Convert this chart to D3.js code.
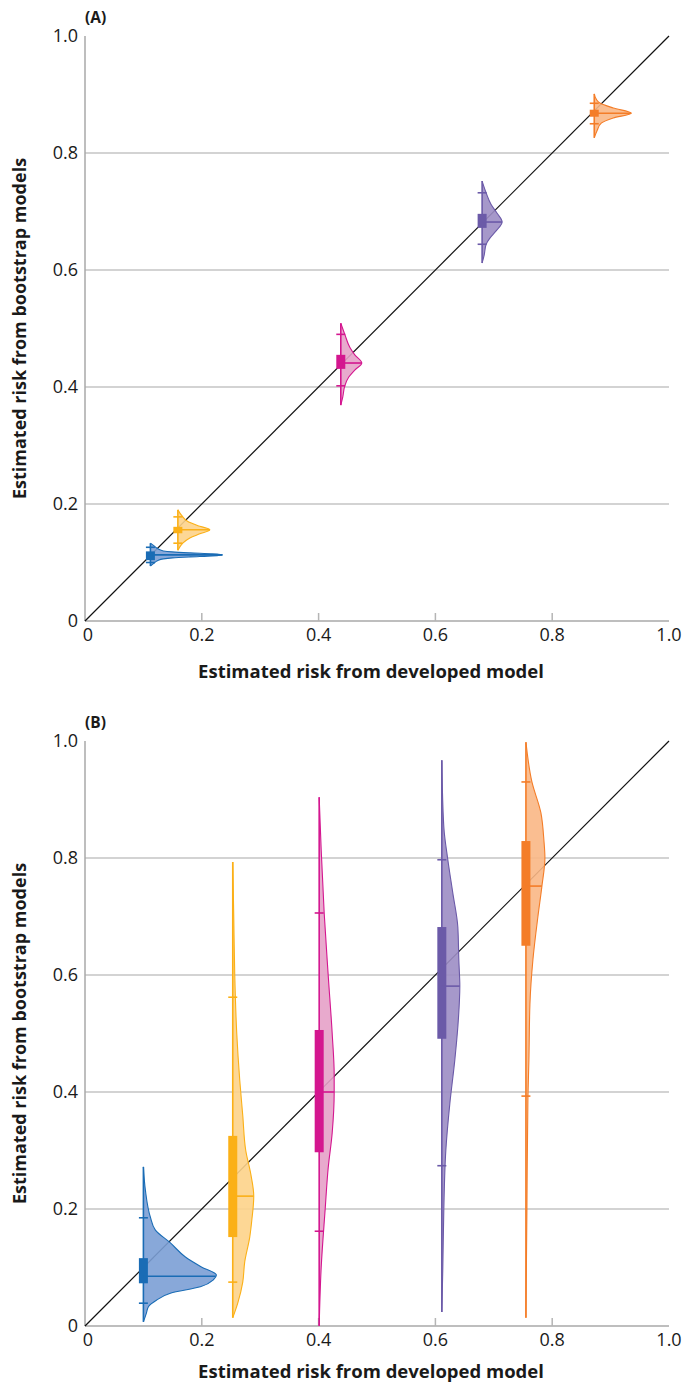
<!DOCTYPE html>
<html>
<head>
<meta charset="utf-8">
<script src="https://cdn.jsdelivr.net/npm/d3@7"></script>
<style>
  body { margin: 0; background: #fff; }
  text { font-family: "Open Sans", sans-serif; fill: #1a1a1a; }
</style>
</head>
<body>
<svg id="chart" width="686" height="1384"></svg>
<script>
// colours for the five risk groups
const strokeColors = ['#1a6cb5', '#fbb017', '#d4168f', '#6b5aa8', '#f47d28'];
const fillColors = ['#7b9fd5', '#fdd38a', '#e6a1c8', '#9c8dc4', '#f9b785'];

const tickValues = [0, 0.2, 0.4, 0.6, 0.8, 1.0];
const tickLabels = ['0', '0.2', '0.4', '0.6', '0.8', '1.0'];

// Panel A: risk from developed model and bootstrap summaries
const devA = [0.112, 0.159, 0.438, 0.680, 0.872];
const medA = [0.113, 0.156, 0.441, 0.682, 0.868];
const q1A = [0.104, 0.150, 0.431, 0.672, 0.862];
const q3A = [0.119, 0.161, 0.455, 0.696, 0.874];
const loA = [0.100, 0.133, 0.402, 0.644, 0.850];
const hiA = [0.126, 0.178, 0.490, 0.732, 0.885];
// density profiles: [bootstrap risk, relative density]
const densA = [
  [[0.133,0],[0.128,0.04],[0.123,0.08],[0.1198,0.13],[0.1181,0.22],[0.1164,0.40],[0.1147,0.62],[0.113,0.72],[0.1113,0.62],[0.1096,0.40],[0.1079,0.22],[0.1062,0.13],[0.103,0.07],[0.098,0.03],[0.094,0]],
  [[0.19,0],[0.18,0.04],[0.17,0.10],[0.163,0.20],[0.156,0.32],[0.149,0.22],[0.142,0.12],[0.133,0.05],[0.121,0]],
  [[0.509,0],[0.49,0.04],[0.468,0.09],[0.455,0.14],[0.441,0.21],[0.429,0.14],[0.417,0.08],[0.402,0.04],[0.383,0.02],[0.369,0]],
  [[0.752,0],[0.732,0.04],[0.712,0.09],[0.697,0.15],[0.682,0.20],[0.667,0.14],[0.655,0.08],[0.644,0.04],[0.625,0.02],[0.612,0]],
  [[0.901,0],[0.892,0.02],[0.885,0.06],[0.877,0.19],[0.868,0.37],[0.860,0.19],[0.851,0.07],[0.839,0.03],[0.826,0]]
];

// Panel B
const devB = [0.100, 0.253, 0.401, 0.611, 0.755];
const medB = [0.085, 0.222, 0.400, 0.581, 0.752];
const q1B = [0.073, 0.152, 0.297, 0.491, 0.650];
const q3B = [0.116, 0.325, 0.506, 0.682, 0.829];
const loB = [0.039, 0.075, 0.162, 0.274, 0.393];
const hiB = [0.185, 0.562, 0.706, 0.797, 0.930];
const densB = [
  [[0.272,0],[0.232,0.02],[0.186,0.07],[0.164,0.12],[0.142,0.27],[0.118,0.42],[0.101,0.58],[0.087,0.73],[0.079,0.70],[0.067,0.57],[0.056,0.27],[0.044,0.13],[0.033,0.05],[0.022,0.03],[0.007,0]],
  [[0.793,0],[0.70,0.01],[0.60,0.02],[0.50,0.04],[0.42,0.07],[0.36,0.10],[0.30,0.13],[0.26,0.18],[0.222,0.21],[0.18,0.19],[0.152,0.17],[0.11,0.12],[0.075,0.10],[0.039,0.05],[0.014,0]],
  [[0.904,0],[0.814,0.02],[0.706,0.05],[0.60,0.09],[0.50,0.13],[0.43,0.15],[0.40,0.15],[0.33,0.13],[0.27,0.09],[0.20,0.06],[0.10,0.02],[0.0,0]],
  [[0.967,0],[0.853,0.02],[0.797,0.06],[0.74,0.11],[0.682,0.16],[0.626,0.17],[0.581,0.18],[0.511,0.16],[0.455,0.13],[0.38,0.08],[0.30,0.04],[0.2,0.02],[0.1,0.01],[0.024,0]],
  [[0.998,0],[0.93,0.06],[0.877,0.15],[0.83,0.18],[0.80,0.19],[0.752,0.16],[0.70,0.12],[0.626,0.07],[0.55,0.04],[0.455,0.03],[0.39,0.02],[0.2,0.01],[0.014,0]]
];

const svg = d3.select('#chart');
const x = d3.scaleLinear().domain([0, 1]).range([85, 669]);
const wScale = d3.scaleLinear().domain([0, 1]).range([0, 100]);

// density width at a given risk, linear between profile points
function widthAt(profile, v) {
  for (let i = 0; i < profile.length - 1; i++) {
    let a = profile[i], b = profile[i + 1];
    if (v <= a[0] && v >= b[0]) {
      let t = (a[0] - v) / (a[0] - b[0]);
      return a[1] + t * (b[1] - a[1]);
    }
  }
  return 0;
}

function drawPanel(top, label, titleGap, dev, med, q1, q3, lo, hi, dens) {
  const y = d3.scaleLinear().domain([0, 1]).range([top + 585, top]);
  const g = svg.append('g');

  // gridlines
  g.selectAll('.grid')
    .data(tickValues.slice(1, 5))
    .join('line')
    .attr('x1', x(0)).attr('x2', x(1))
    .attr('y1', d => y(d)).attr('y2', d => y(d))
    .attr('stroke', '#c4c4c4').attr('stroke-width', 1.5);

  // axes lines
  g.append('line').attr('x1', x(0)).attr('x2', x(0)).attr('y1', y(1)).attr('y2', y(0))
    .attr('stroke', '#a9a9a9').attr('stroke-width', 1.5);
  g.append('line').attr('x1', x(0)).attr('x2', x(1)).attr('y1', y(0)).attr('y2', y(0))
    .attr('stroke', '#a9a9a9').attr('stroke-width', 1.5);

  // x ticks (inside)
  g.selectAll('.xt')
    .data(tickValues.slice(1, 5))
    .join('line')
    .attr('x1', d => x(d)).attr('x2', d => x(d))
    .attr('y1', y(0)).attr('y2', y(0) - 8)
    .attr('stroke', '#b5b5b5').attr('stroke-width', 1.5);

  // tick labels
  g.selectAll('.xl')
    .data(tickValues)
    .join('text')
    .attr('x', d => x(d) + (d === 0 ? 3 : 0))
    .attr('y', y(0) + 20)
    .attr('text-anchor', 'middle')
    .attr('font-size', 18)
    .text((d, i) => tickLabels[i]);

  g.selectAll('.yl')
    .data(tickValues)
    .join('text')
    .attr('x', x(0) - 7)
    .attr('y', d => y(d) + 6)
    .attr('text-anchor', 'end')
    .attr('font-size', 18)
    .text((d, i) => tickLabels[i]);

  // axis titles
  g.append('text')
    .attr('x', (x(0) + x(1)) / 2 - 6)
    .attr('y', y(0) + titleGap)
    .attr('text-anchor', 'middle')
    .attr('font-size', 18.5)
    .attr('font-weight', 'bold')
    .text('Estimated risk from developed model');

  g.append('text')
    .attr('transform', `translate(26, ${(y(0) + y(1)) / 2}) rotate(-90)`)
    .attr('text-anchor', 'middle')
    .attr('font-size', 18)
    .attr('font-weight', 'bold')
    .text('Estimated risk from bootstrap models');

  g.append('text')
    .attr('x', x(0))
    .attr('y', y(1) - 13)
    .attr('font-size', 15.5)
    .attr('font-weight', 'bold')
    .text(label);

  // identity line
  g.append('line')
    .attr('x1', x(0)).attr('y1', y(0)).attr('x2', x(1)).attr('y2', y(1))
    .attr('stroke', '#111').attr('stroke-width', 1.2);

  // half violins
  dev.forEach((d0, i) => {
    const x0 = x(d0);
    const area = d3.area()
      .y(p => y(p[0]))
      .x0(x0)
      .x1(p => x0 + wScale(p[1]))
      .curve(d3.curveMonotoneY);
    const line = d3.line()
      .y(p => y(p[0]))
      .x(p => x0 + wScale(p[1]))
      .curve(d3.curveMonotoneY);

    g.append('path').attr('d', area(dens[i]))
      .attr('fill', fillColors[i]).attr('fill-opacity', 0.9);
    g.append('path').attr('d', line(dens[i]))
      .attr('fill', 'none').attr('stroke', strokeColors[i]).attr('stroke-width', 1.1);

    const prof = dens[i];
    // centre line
    g.append('line')
      .attr('x1', x0).attr('x2', x0)
      .attr('y1', y(prof[0][0])).attr('y2', y(prof[prof.length - 1][0]))
      .attr('stroke', strokeColors[i]).attr('stroke-width', 1.6);
    // whisker ticks
    [lo[i], hi[i]].forEach(v => {
      g.append('line')
        .attr('x1', x0 - 4.5).attr('x2', x0 + 4.5)
        .attr('y1', y(v)).attr('y2', y(v))
        .attr('stroke', strokeColors[i]).attr('stroke-width', 1.6);
    });
    // box
    g.append('rect')
      .attr('x', x0 - 4.5).attr('width', 9)
      .attr('y', y(q3[i])).attr('height', y(q1[i]) - y(q3[i]))
      .attr('fill', strokeColors[i]);
    // median
    g.append('line')
      .attr('x1', x0).attr('x2', x0 + wScale(widthAt(prof, med[i])))
      .attr('y1', y(med[i])).attr('y2', y(med[i]))
      .attr('stroke', strokeColors[i]).attr('stroke-width', 1.6);
  });
}

drawPanel(36, '(A)', 57, devA, medA, q1A, q3A, loA, hiA, densA);
drawPanel(741, '(B)', 52, devB, medB, q1B, q3B, loB, hiB, densB);
</script>
</body>
</html>
